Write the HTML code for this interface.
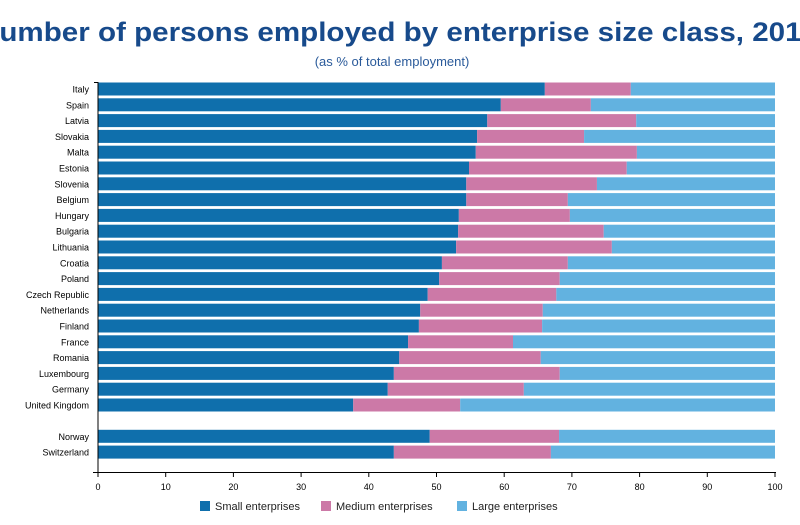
<!DOCTYPE html>
<html><head><meta charset="utf-8"><style>
html,body{margin:0;padding:0;background:#fff;width:800px;height:525px;overflow:hidden}
svg{display:block;font-family:"Liberation Sans",sans-serif}
</style></head><body>
<svg width="800" height="525" viewBox="0 0 800 525" xmlns="http://www.w3.org/2000/svg">
<text x="-22" y="41" font-size="27" font-weight="bold" fill="#174a8b" textLength="840" lengthAdjust="spacingAndGlyphs">Number of persons employed by enterprise size class, 2015</text>
<text x="392" y="66" font-size="13" fill="#2a5a9a" text-anchor="middle">(as % of total employment)</text>
<g id="bars"></g>
<line x1="98" y1="82" x2="98" y2="472" stroke="#000" stroke-width="1"/>
<line x1="94" y1="82.5" x2="98" y2="82.5" stroke="#000"/>
<line x1="93" y1="472.5" x2="776" y2="472.5" stroke="#000"/>
<g id="ticks" font-size="9" fill="#000" text-anchor="middle"></g>
<g font-size="11" fill="#222">
<rect x="200" y="501" width="10" height="10" fill="#0f6fac"/><text x="215" y="510">Small enterprises</text>
<rect x="321" y="501" width="10" height="10" fill="#cc79a7"/><text x="336" y="510">Medium enterprises</text>
<rect x="457" y="501" width="10" height="10" fill="#62b2e0"/><text x="472" y="510">Large enterprises</text>
</g>
</svg>
<script>
var d=[["Italy",66,78.7],["Spain",59.5,72.8],["Latvia",57.5,79.5],["Slovakia",56,71.8],["Malta",55.8,79.6],["Estonia",54.8,78.1],["Slovenia",54.4,73.7],["Belgium",54.4,69.4],["Hungary",53.3,69.7],["Bulgaria",53.2,74.7],["Lithuania",52.9,75.9],["Croatia",50.8,69.4],["Poland",50.4,68.2],["Czech Republic",48.7,67.7],["Netherlands",47.6,65.7],["Finland",47.4,65.6],["France",45.8,61.3],["Romania",44.5,65.4],["Luxembourg",43.7,68.2],["Germany",42.8,62.9],["United Kingdom",37.7,53.5],["Norway",49,68.1],["Switzerland",43.7,66.9]];
var ns="http://www.w3.org/2000/svg",g=document.getElementById("bars"),s="";
var X=function(v){return 98+v*6.77};
d.forEach(function(r,i){
 var c=89+i*15.8+(i>20?15.5:0),y=c-6.5;
 s+='<rect x="98" y="'+y+'" width="'+(X(r[1])-98)+'" height="13" fill="#0f6fac"/>';
 s+='<rect x="'+X(r[1])+'" y="'+y+'" width="'+(X(r[2])-X(r[1]))+'" height="13" fill="#cc79a7"/>';
 s+='<rect x="'+X(r[2])+'" y="'+y+'" width="'+(X(100)-X(r[2]))+'" height="13" fill="#62b2e0"/>';
 s+='<text x="89" y="'+(c+3.5)+'" font-size="9" text-anchor="end" fill="#000">'+r[0]+'</text>';
});
g.innerHTML=s;
var t="";
for(var v=0;v<=100;v+=10){var x=X(v);t+='<line x1="'+x+'" y1="472" x2="'+x+'" y2="477" stroke="#000"/><text x="'+x+'" y="490">'+v+'</text>';}
document.getElementById("ticks").innerHTML=t;
</script>
</body></html>
